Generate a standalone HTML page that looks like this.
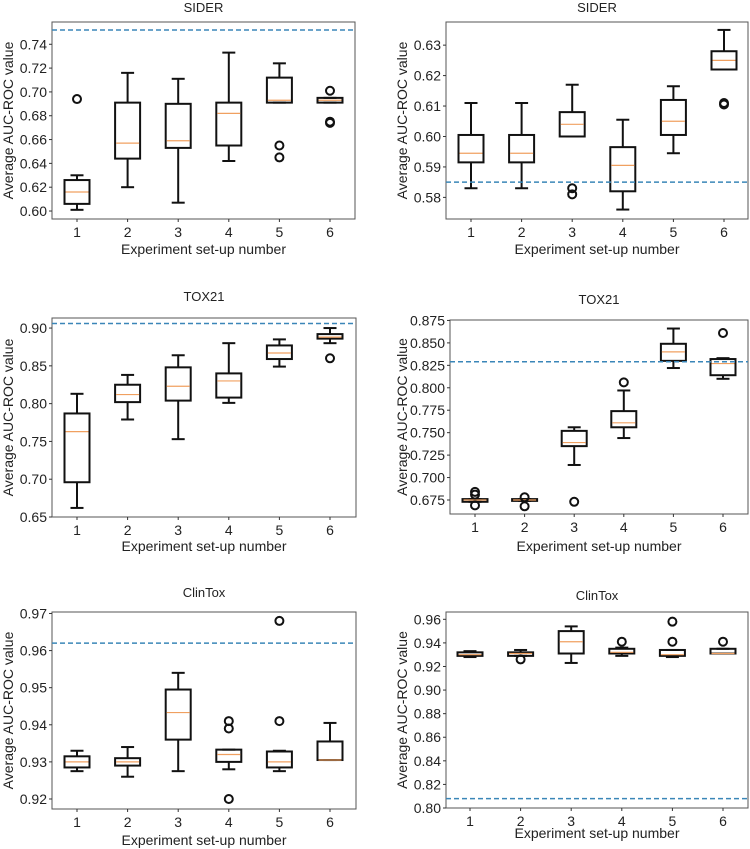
<!DOCTYPE html>
<html><head><meta charset="utf-8"><style>
body{margin:0;background:#fff}
svg{display:block}
text{font-family:"Liberation Sans",sans-serif;fill:#222}
</style></head><body>
<svg id="c" width="750" height="849"></svg>
<script>
// ---- data: per panel, per setup: [lowWhisker, q1, median, q3, highWhisker]
const titles = ["SIDER","SIDER","TOX21","TOX21","ClinTox","ClinTox"];
const categories = [1,2,3,4,5,6];
const p1Stats = [[0.601,0.606,0.616,0.626,0.630],[0.620,0.644,0.657,0.691,0.716],[0.607,0.653,0.659,0.690,0.711],[0.642,0.655,0.682,0.691,0.733],[0.691,0.691,0.693,0.712,0.724],[0.691,0.691,0.693,0.695,0.695]];
const p1Out = [[0.694],[],[],[],[0.655,0.645],[0.701,0.675,0.674]];
const p2Stats = [[0.583,0.5915,0.5945,0.6005,0.611],[0.583,0.5915,0.5945,0.6005,0.611],[0.600,0.600,0.604,0.608,0.617],[0.576,0.582,0.5905,0.5965,0.6055],[0.5945,0.6005,0.605,0.612,0.6165],[0.622,0.622,0.625,0.628,0.635]];
const p2Out = [[],[],[0.583,0.581],[],[],[0.611,0.6105]];
const p3Stats = [[0.662,0.696,0.763,0.787,0.813],[0.779,0.802,0.812,0.825,0.838],[0.753,0.804,0.823,0.848,0.864],[0.801,0.808,0.830,0.840,0.880],[0.849,0.859,0.867,0.877,0.885],[0.880,0.886,0.888,0.892,0.900]];
const p3Out = [[],[],[],[],[],[0.860]];
const p4Stats = [[0.673,0.673,0.675,0.676,0.676],[0.674,0.674,0.675,0.676,0.676],[0.714,0.735,0.739,0.752,0.756],[0.744,0.756,0.761,0.774,0.797],[0.822,0.830,0.840,0.849,0.866],[0.810,0.814,0.827,0.832,0.833]];
const p4Out = [[0.684,0.681,0.669],[0.678,0.668],[0.673],[0.806],[],[0.861]];
const p5Stats = [[0.9275,0.9285,0.930,0.9315,0.933],[0.926,0.929,0.930,0.931,0.934],[0.9275,0.936,0.9433,0.9495,0.954],[0.928,0.930,0.932,0.9333,0.9333],[0.9275,0.9285,0.930,0.9328,0.933],[0.9305,0.9305,0.9305,0.9355,0.9405]];
const p5Out = [[],[],[],[0.941,0.939,0.920],[0.968,0.941],[]];
const p6Stats = [[0.928,0.929,0.930,0.932,0.933],[0.929,0.929,0.931,0.932,0.934],[0.923,0.931,0.941,0.950,0.954],[0.929,0.931,0.932,0.935,0.936],[0.928,0.929,0.930,0.934,0.934],[0.931,0.931,0.931,0.935,0.935]];
const p6Out = [[],[0.926],[],[0.941],[0.958,0.941],[0.941]];
const baselines = [0.752,0.585,0.906,0.829,0.962,0.808];
const ticks1 = ["0.60","0.62","0.64","0.66","0.68","0.70","0.72","0.74"];
const ticks2 = ["0.58","0.59","0.60","0.61","0.62","0.63"];
const ticks3 = ["0.65","0.70","0.75","0.80","0.85","0.90"];
const ticks4 = ["0.675","0.700","0.725","0.750","0.775","0.800","0.825","0.850","0.875"];
const ticks5 = ["0.92","0.93","0.94","0.95","0.96","0.97"];
const ticks6 = ["0.80","0.82","0.84","0.86","0.88","0.90","0.92","0.94","0.96"];
const yDomains = [[0.5933,0.7587],[0.5729,0.6376],[0.65,0.9133],[0.6594,0.8755],[0.9173,0.9704],[0.80,0.9662]];

const allStats=[p1Stats,p2Stats,p3Stats,p4Stats,p5Stats,p6Stats];
const allOut=[p1Out,p2Out,p3Out,p4Out,p5Out,p6Out];
const allTicks=[ticks1,ticks2,ticks3,ticks4,ticks5,ticks6];
// layout geometry (pixels)
const geo=[
 {l:52,r:355,t:22,b:219,x1:77,x6:330,ty:12,xl:254,yl:13},
 {l:446,r:748,t:22,b:219,x1:471,x6:724,ty:12,xl:254,yl:407},
 {l:52,r:356,t:318,b:517,x1:77,x6:330,ty:301,xl:551,yl:13},
 {l:450,r:748,t:320,b:514,x1:475,x6:723,ty:304,xl:551,yl:407},
 {l:52,r:356,t:612,b:809,x1:77,x6:330,ty:597,xl:845,yl:13},
 {l:446,r:748,t:612,b:808,x1:470,x6:723,ty:600,xl:838,yl:407}
];
const NS="http://www.w3.org/2000/svg";
const svg=document.getElementById('c');
function mk(tag,attrs,parent,txt){const e=document.createElementNS(NS,tag);for(const k in attrs)e.setAttribute(k,attrs[k]);if(txt!==undefined)e.textContent=txt;(parent||svg).appendChild(e);return e;}
allStats.forEach((stats,p)=>{
 const g=geo[p],[d0,d1]=yDomains[p];
 const y=v=>g.b-(v-d0)/(d1-d0)*(g.b-g.t);
 const x=c=>g.x1+(c-1)*(g.x6-g.x1)/5;
 const grp=mk('g',{});
 
 
 const fr=mk('rect',{x:g.l,y:g.t,width:g.r-g.l,height:g.b-g.t,fill:'none',stroke:'#555','stroke-width':1},grp);
 
 
 const tt=mk('text',{x:(g.l+g.r)/2,y:g.ty,'text-anchor':'middle','font-size':13},grp,titles[p]);
 
 
 const xt=mk('text',{x:(g.l+g.r)/2,y:g.xl,'text-anchor':'middle','font-size':14},grp,'Experiment set-up number');
 
 
 const yt=mk('text',{x:0,y:0,'text-anchor':'middle','font-size':14,transform:`translate(${g.yl},${(g.t+g.b)/2}) rotate(-90)`},grp,'Average AUC-ROC value');
 
 
 allTicks[p].forEach(t=>{const yy=y(parseFloat(t));
  mk('line',{x1:g.l-3,x2:g.l,y1:yy,y2:yy,stroke:'#333'},grp);
  const tl=mk('text',{x:g.l-5,y:yy+5,'text-anchor':'end','font-size':14},grp,t);
  
  
 });
 categories.forEach((c,i)=>{
  mk('line',{x1:x(c),x2:x(c),y1:g.b,y2:g.b+3,stroke:'#333'},grp);
  const xl=mk('text',{x:x(c),y:g.b+18,'text-anchor':'middle','font-size':14},grp,String(c));
  
  
  const s=stats[i],cx=x(c),bw=12.5,cw=6.5;
  const bg=mk('g',{stroke:'#111','stroke-width':2,fill:'none'},grp);
  
  
  mk('line',{x1:cx,x2:cx,y1:y(s[0]),y2:y(s[1])},bg);
  mk('line',{x1:cx,x2:cx,y1:y(s[3]),y2:y(s[4])},bg);
  mk('line',{x1:cx-cw,x2:cx+cw,y1:y(s[0]),y2:y(s[0])},bg);
  mk('line',{x1:cx-cw,x2:cx+cw,y1:y(s[4]),y2:y(s[4])},bg);
  mk('rect',{x:cx-bw,y:y(s[3]),width:2*bw,height:Math.max(0.5,y(s[1])-y(s[3]))},bg);
  mk('line',{x1:cx-bw+1,x2:cx+bw-1,y1:y(s[2]),y2:y(s[2]),stroke:'#f0a060','stroke-width':1.2},bg);
  allOut[p][i].forEach(o=>{
   const oc=mk('circle',{cx:cx,cy:y(o),r:4},bg);
   
   
  });
 });
 const bl=mk('line',{x1:g.l,x2:g.r,y1:y(baselines[p]),y2:y(baselines[p]),stroke:'#3a86b8','stroke-width':1.5,'stroke-dasharray':'5,3'},grp);
 
 
});
</script>
</body></html>
